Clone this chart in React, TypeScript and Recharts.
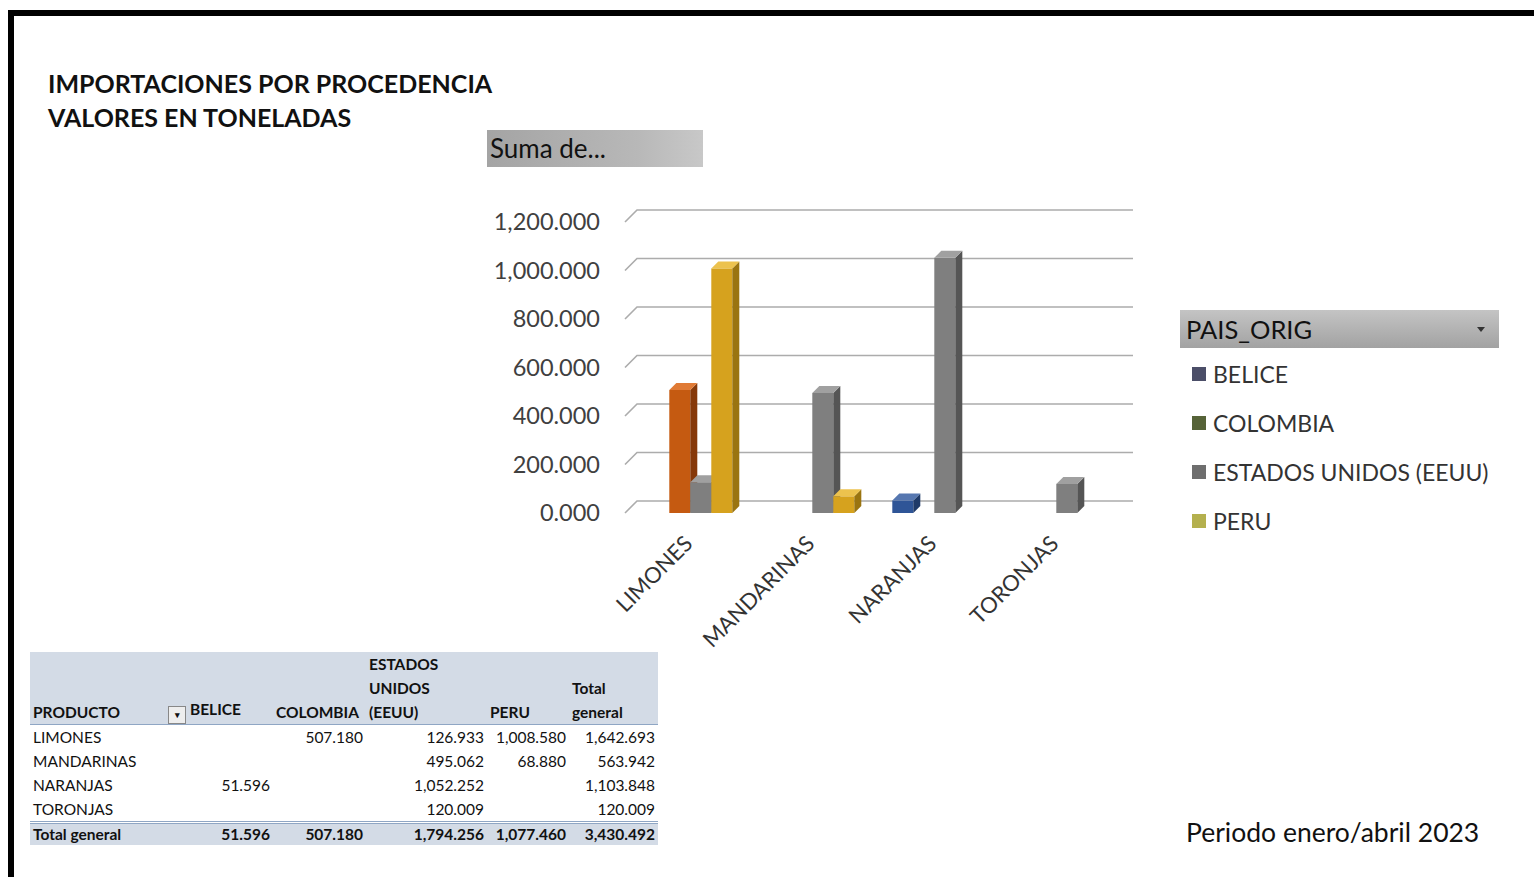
import React from "react"
import { Bar, BarChart, CartesianGrid, XAxis, YAxis } from "recharts"

const categories = ["LIMONES", "MANDARINAS", "NARANJAS", "TORONJAS"]
const seriesNames = ["BELICE", "COLOMBIA", "ESTADOS UNIDOS (EEUU)", "PERU"]
const belice = [null, null, 51.596, null]
const colombia = [507.18, null, null, null]
const eeuu = [126.933, 495.062, 1052.252, 120.009]
const peru = [1008.58, 68.88, null, null]
const yTicks = [0, 200, 400, 600, 800, 1000, 1200]

const seriesValues = [belice, colombia, eeuu, peru]
const barColors = ["#2f5597", "#c55a11", "#7f7f7f", "#d6a21e"]
const sideColors = ["#1f3a68", "#86390a", "#555555", "#9a7410"]
const topColors = ["#5677b0", "#e07a35", "#a0a0a0", "#ecc24e"]
const legendColors = ["#4b4e68", "#566338", "#6e6e6e", "#b4b04e"]

const data = categories.map((c, i) => {
  const row: any = { name: c }
  seriesNames.forEach((s, j) => (row[s] = seriesValues[j][i]))
  return row
})

const FONT = "Lato, 'Open Sans', sans-serif"
const fmt = (v: number | null) =>
  v == null ? "" : v.toLocaleString("en-US", { minimumFractionDigits: 3, maximumFractionDigits: 3 })

const D = 7

function Bar3D(props: any, idx: number) {
  const { x, y, width, height } = props
  if (!height || height <= 0 || isNaN(y)) return <g />
  const w = width
  return (
    <g>
      <rect x={x} y={y} width={w} height={height} fill={barColors[idx]} />
      <polygon
        points={`${x + w},${y} ${x + w + D},${y - D} ${x + w + D},${y + height - D} ${x + w},${y + height}`}
        fill={sideColors[idx]}
      />
      <polygon
        points={`${x},${y} ${x + D},${y - D} ${x + w + D},${y - D} ${x + w},${y}`}
        fill={topColors[idx]}
      />
    </g>
  )
}

function GridLine(props: any) {
  const { x1, y1, x2, key } = props
  return (
    <path
      key={key ?? y1}
      d={`M${x1 - 5},${y1} L${x1 + 7},${y1 - 12} L${x2 + 15},${y1 - 12}`}
      stroke="#acacac"
      strokeWidth={1.6}
      fill="none"
    />
  )
}

function CatTick({ x, y, payload }: any) {
  const px = x + 3
  const py = y + 24
  return (
    <text
      x={px}
      y={py}
      transform={`rotate(-45 ${px} ${py})`}
      textAnchor="end"
      fontSize={22}
      fill="#333"
      fontFamily={FONT}
    >
      {payload.value}
    </text>
  )
}

const totalsRow = categories.map((_, i) => seriesValues.reduce((s, arr) => s + (arr[i] ?? 0), 0))
const totalsCol = seriesValues.map((arr) => arr.reduce((s: number, v) => s + (v ?? 0), 0))
const grand = totalsRow.reduce((a, b) => a + b, 0)

const colW = [136, 107, 93, 121, 82, 89]

function PivotTable() {
  const cell: React.CSSProperties = { padding: "0 3px", height: 24, lineHeight: "24px", whiteSpace: "nowrap" }
  const num: React.CSSProperties = { ...cell, textAlign: "right" }
  const tot: React.CSSProperties = { ...cell, height: 21, lineHeight: "21px" }
  const totNum: React.CSSProperties = { ...tot, textAlign: "right" }
  return (
    <table
      style={{
        position: "absolute",
        left: 30,
        top: 652,
        borderCollapse: "collapse",
        tableLayout: "fixed",
        fontFamily: FONT,
        fontSize: 15.5,
        color: "#111",
        width: colW.reduce((a, b) => a + b, 0),
      }}
    >
      <colgroup>
        {colW.map((w, i) => (
          <col key={i} style={{ width: w }} />
        ))}
      </colgroup>
      <thead>
        <tr style={{ background: "#d3dbe6", fontWeight: 700, borderBottom: "1.5px solid #8fa6c4" }}>
          <td style={{ ...cell, height: 71, verticalAlign: "bottom" }}>PRODUCTO</td>
          <td style={{ ...cell, height: 71, verticalAlign: "bottom", paddingLeft: 2 }}>
            <span
              style={{
                display: "inline-block",
                width: 16,
                height: 16,
                border: "1px solid #888",
                background: "#eee",
                verticalAlign: "-3px",
                marginRight: 4,
                fontSize: 9,
                lineHeight: "16px",
                textAlign: "center",
              }}
            >
              ▾
            </span>
            BELICE
          </td>
          <td style={{ ...cell, height: 71, verticalAlign: "bottom" }}>COLOMBIA</td>
          <td style={{ ...cell, height: 71, verticalAlign: "bottom", whiteSpace: "normal" }}>
            ESTADOS
            <br />
            UNIDOS
            <br />
            (EEUU)
          </td>
          <td style={{ ...cell, height: 71, verticalAlign: "bottom" }}>PERU</td>
          <td style={{ ...cell, height: 71, verticalAlign: "bottom", whiteSpace: "normal" }}>
            Total
            <br />
            general
          </td>
        </tr>
      </thead>
      <tbody>
        {categories.map((c, i) => (
          <tr key={c}>
            <td style={cell}>{c}</td>
            {seriesValues.map((arr, j) => (
              <td key={j} style={num}>
                {fmt(arr[i])}
              </td>
            ))}
            <td style={num}>{fmt(totalsRow[i])}</td>
          </tr>
        ))}
        <tr style={{ background: "#d3dbe6", fontWeight: 700, borderTop: "3px double #8fa6c4" }}>
          <td style={tot}>Total general</td>
          {totalsCol.map((v, j) => (
            <td key={j} style={totNum}>
              {fmt(v)}
            </td>
          ))}
          <td style={totNum}>{fmt(grand)}</td>
        </tr>
      </tbody>
    </table>
  )
}

export default function App() {
  return (
    <div style={{ position: "relative", width: 1534, height: 877, overflow: "hidden", background: "#fff", fontFamily: FONT }}>
      <style>{`body{margin:0;}`}</style>
      <div
        style={{
          position: "absolute",
          left: 8,
          top: 10,
          width: 1540,
          height: 880,
          border: "6px solid #000",
          boxSizing: "border-box",
        }}
      />
      <div style={{ position: "absolute", left: 48, top: 66, fontSize: 25, fontWeight: 700, lineHeight: "34px", color: "#111", letterSpacing: 0 }}>
        IMPORTACIONES POR PROCEDENCIA
        <br />
        VALORES EN TONELADAS
      </div>
      <div
        style={{
          position: "absolute",
          left: 487,
          top: 130,
          width: 216,
          height: 37,
          background: "linear-gradient(to right, #a4a4a4, #b8b8b8 70%, #c8c8c8)",
          fontSize: 26,
          lineHeight: "37px",
          paddingLeft: 3,
          boxSizing: "border-box",
          color: "#111",
        }}
      >
        Suma de...
      </div>

      <div style={{ position: "absolute", left: 480, top: 190 }}>
        <BarChart
          width={680}
          height={470}
          data={data}
          margin={{ top: 32, right: 42, left: 0, bottom: 7 }}
          barCategoryGap="15%"
          barGap={0}
        >
          <CartesianGrid vertical={false} horizontal={GridLine as any} />
          <XAxis dataKey="name" axisLine={false} tickLine={false} height={140} interval={0} tick={<CatTick />} />
          <YAxis
            domain={[0, 1200]}
            ticks={yTicks}
            width={150}
            axisLine={false}
            tickLine={false}
            tickMargin={24}
            tickFormatter={(v) => fmt(v)}
            tick={{ fontSize: 23.5, fill: "#404040", fontFamily: FONT }}
          />
          {seriesNames.map((s, i) => (
            <Bar key={s} dataKey={s} fill={barColors[i]} isAnimationActive={false} shape={(p: any) => Bar3D(p, i)} />
          ))}
        </BarChart>
      </div>

      <div
        style={{
          position: "absolute",
          left: 1180,
          top: 310,
          width: 319,
          height: 38,
          background: "linear-gradient(to bottom, #c4c4c4, #a2a2a2)",
          boxSizing: "border-box",
          paddingLeft: 6,
          fontSize: 25.5,
          lineHeight: "38px",
          color: "#111",
        }}
      >
        PAIS_ORIG
        <span
          style={{
            position: "absolute",
            right: 14,
            top: 17,
            width: 0,
            height: 0,
            borderLeft: "4px solid transparent",
            borderRight: "4px solid transparent",
            borderTop: "5px solid #333",
          }}
        />
      </div>
      {seriesNames.map((s, i) => (
        <div
          key={s}
          style={{
            position: "absolute",
            left: 1192,
            top: 361 + i * 49,
            height: 26,
            display: "flex",
            alignItems: "center",
            fontSize: 23,
            color: "#333",
          }}
        >
          <span style={{ width: 14, height: 14, background: legendColors[i], marginRight: 7, display: "inline-block" }} />
          {s}
        </div>
      ))}

      <PivotTable />

      <div style={{ position: "absolute", left: 1186, top: 815, fontSize: 26.5, color: "#111", lineHeight: "34px" }}>
        Periodo enero/abril 2023
      </div>
    </div>
  )
}
